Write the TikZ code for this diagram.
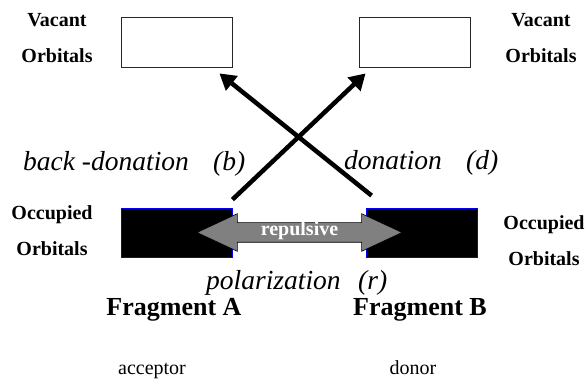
\documentclass[tikz,border=0pt]{standalone}
\usepackage{fontspec}
\setmainfont{Liberation Serif}
\usetikzlibrary{arrows.meta,shapes.arrows,calc}
\begin{document}
\begin{tikzpicture}[x=1pt,y=-1pt,
  vacant/.style={draw=black!85, line width=0.8pt, fill=white, minimum width=111pt, minimum height=50pt, inner sep=0pt},
  occupied/.style={draw=blue, line width=0.8pt, fill=black, minimum width=111pt, minimum height=49pt, inner sep=0pt},
  lbl/.style={font=\bfseries\fontsize{20}{36}\selectfont, align=center, inner sep=0pt},
  ital/.style={font=\itshape\fontsize{27.5}{30}\selectfont, inner sep=0pt, anchor=base west},
  frag/.style={font=\bfseries\fontsize{26}{30}\selectfont, inner sep=0pt, anchor=base},
  role/.style={font=\fontsize{20}{24}\selectfont, inner sep=0pt, anchor=base},
  transfer/.style={line width=4.5pt, -{Triangle[length=16pt,width=18pt]}},
  repul/.style={double arrow, draw=black, line width=0.6pt, fill=gray, text=white,
    font=\bfseries\fontsize{20}{22}\selectfont, inner sep=0pt, text height=13pt, text depth=6pt,
    minimum height=205pt, double arrow head extend=9pt, double arrow tip angle=50},
]
\useasboundingbox (0,0) rectangle (586,387);
% boxes
\node[vacant] (vacA) at (176.5,42) {};
\node[vacant] (vacB) at (415,42) {};
\node[occupied] (occA) at (176.5,232.5) {};
\node[occupied] (occB) at (421.5,232.5) {};
% side labels
\node[lbl] (vlA) at (57,38.5) {Vacant\\Orbitals};
\node[lbl] (vlB) at (541,38.5) {Vacant\\Orbitals};
\node[lbl] (olA) at (52,231) {Occupied\\Orbitals};
\node[lbl] (olB) at (544,240.5) {Occupied\\Orbitals};
% transfer arrows
\coordinate (dS) at ($(occA.north east)+(0,-8)$);
\coordinate (dE) at ($(vacB.south west)+(6.5,6)$);
\coordinate (bS) at ($(occB.north west)+(6,-12)$);
\coordinate (bE) at ($(vacA.south east)+(-13,6)$);
\draw[transfer] (dS) -- (dE);
\draw[transfer] (bS) -- (bE);
% repulsive double arrow
\node[repul] (rep) at (299.5,232.5) {repulsive};
% italic labels
\node[ital] (bd) at (23,171) {back -donation};
\node[ital] (bdl) at (213,171) {(b)};
\node[ital] (dn) at (344,170) {donation};
\node[ital] (dnl) at (466,170) {(d)};
\node[ital] (pol) at (206,290) {polarization};
\node[ital] (poll) at (358,290) {(r)};
% fragments
\node[frag] (fA) at (174,316) {Fragment A};
\node[frag] (fB) at (420,316) {Fragment B};
\node[role] (acc) at (152,374) {acceptor};
\node[role] (don) at (413,374) {donor};
\end{tikzpicture}
\end{document}
